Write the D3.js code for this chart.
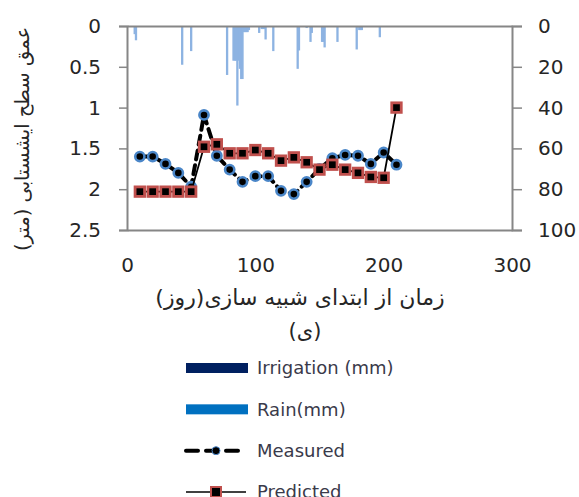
<!DOCTYPE html>
<html>
<head>
<meta charset="utf-8">
<script src="https://cdn.jsdelivr.net/npm/d3@7"></script>
<style>
  html, body { margin: 0; padding: 0; background: #fff; }
  svg text { font-family: "DejaVu Sans", sans-serif; }
</style>
</head>
<body>
<svg id="chart" width="579" height="497"></svg>
<script>
// Water-table depth (m) over simulation days, with daily rain (mm) on the inverted right axis
const measuredDays  = [10, 20, 30, 40, 50, 60, 70, 80, 90, 100, 110, 120, 130, 140, 150, 160, 170, 180, 190, 200, 210];
const measuredDepth = [1.60, 1.60, 1.69, 1.80, 1.97, 1.09, 1.59, 1.76, 1.91, 1.84, 1.84, 2.02, 2.06, 1.91, 1.75, 1.62, 1.58, 1.59, 1.69, 1.55, 1.70];

const predictedDays  = [10, 20, 30, 40, 50, 60, 70, 80, 90, 100, 110, 120, 130, 140, 150, 160, 170, 180, 190, 200, 210];
const predictedDepth = [2.03, 2.03, 2.03, 2.03, 2.03, 1.48, 1.45, 1.56, 1.56, 1.52, 1.56, 1.65, 1.61, 1.67, 1.76, 1.70, 1.76, 1.80, 1.85, 1.86, 1.00];

const rainDays = [6, 7, 43, 50, 78, 83, 84, 85, 86, 87, 88, 89, 90, 91, 92, 93, 94, 95,
                  103, 105, 106, 107, 108, 114, 133, 134, 140, 143, 144, 152, 153, 154, 164,
                  179, 181, 182, 183, 197];
const rainMm   = [4, 7, 19, 12.3, 24, 17, 17, 17, 39, 17, 21, 26, 26, 3, 3, 3, 3, 2,
                  3.4, 1.5, 1.5, 1.5, 6.6, 12.3, 21, 12, 1, 7.8, 3.4, 7.8, 7.8, 10.5, 7.8,
                  11.5, 2, 2, 2, 5.5];

const irrigationDays = [];
const irrigationMm   = [];

const xTicks      = [0, 100, 200, 300];
const depthTicks  = [0, 0.5, 1, 1.5, 2, 2.5];
const rainTicks   = [0, 20, 40, 60, 80, 100];

const xTitle = "زمان از ابتدای شبیه سازی(روز)";
const yTitle = "عمق سطح ایشستابی (متر)";
const panelLabel = "(ی)";

const legendItems = [
  { name: "Irrigation (mm)", kind: "bar", color: "#002060" },
  { name: "Rain(mm)",        kind: "bar", color: "#0070c0" },
  { name: "Measured",        kind: "measured" },
  { name: "Predicted",       kind: "predicted" }
];

const svg = d3.select("#chart");
const plot = { left: 127, right: 512, top: 26, bottom: 230 };
const axisColor = "#868686";
const textColor = "#262626";

const x = d3.scaleLinear().domain([0, 300]).range([plot.left, plot.right]);
const y = d3.scaleLinear().domain([0, 2.5]).range([plot.top, plot.bottom]);
const yRain = d3.scaleLinear().domain([0, 100]).range([plot.top, plot.bottom]);

// Rain bars hanging from the top edge
const barW = 2.3;
svg.append("g").selectAll("rect")
  .data(rainDays.map((d, i) => ({ d, v: rainMm[i] })))
  .join("rect")
  .attr("x", p => x(p.d) - barW / 2)
  .attr("y", yRain(0))
  .attr("width", barW)
  .attr("height", p => yRain(p.v) - yRain(0))
  .attr("fill", "#8db3e2");

svg.append("g").selectAll("rect")
  .data(irrigationDays.map((d, i) => ({ d, v: irrigationMm[i] })))
  .join("rect")
  .attr("x", p => x(p.d) - barW / 2)
  .attr("y", yRain(0))
  .attr("width", barW)
  .attr("height", p => yRain(p.v) - yRain(0))
  .attr("fill", "#002060");

// Axes
const tickFont = 20;
const axLeft = svg.append("g").attr("transform", `translate(${plot.left},0)`)
  .call(d3.axisLeft(y).tickValues(depthTicks).tickSize(8).tickPadding(18).tickFormat(d3.format("~g")));
const axRight = svg.append("g").attr("transform", `translate(${plot.right},0)`)
  .call(d3.axisRight(yRain).tickValues(rainTicks).tickSize(10).tickPadding(16));
const axBottom = svg.append("g").attr("transform", `translate(0,${plot.bottom})`)
  .call(d3.axisBottom(x).tickValues(xTicks).tickSize(0).tickPadding(28));
const axTop = svg.append("g").attr("transform", `translate(0,${plot.top})`)
  .call(d3.axisTop(x).tickValues([]).tickSize(0));

[axLeft, axRight, axBottom, axTop].forEach(g => {
  g.selectAll("path.domain").attr("stroke", axisColor).attr("stroke-width", 2);
  g.selectAll(".tick line").attr("stroke", axisColor).attr("stroke-width", 1.5);
  g.selectAll(".tick text").attr("fill", textColor).style("font-size", tickFont + "px")
    .style("font-family", "'DejaVu Sans', sans-serif");
});

// Measured series: dashed line with round markers
const line = d3.line().x(p => x(p.d)).y(p => y(p.v));
const measured = measuredDays.map((d, i) => ({ d, v: measuredDepth[i] }));
const predicted = predictedDays.map((d, i) => ({ d, v: predictedDepth[i] }));

svg.append("path").datum(measured)
  .attr("d", line).attr("fill", "none")
  .attr("stroke", "#000").attr("stroke-width", 4)
  .attr("stroke-dasharray", "9,6").attr("stroke-linecap", "round");

svg.append("g").selectAll("circle")
  .data(measured).join("circle")
  .attr("cx", p => x(p.d)).attr("cy", p => y(p.v)).attr("r", 4.6)
  .attr("fill", "#000").attr("stroke", "#4a86c8").attr("stroke-width", 2.6);

// Predicted series: solid line with square markers
svg.append("path").datum(predicted)
  .attr("d", line).attr("fill", "none")
  .attr("stroke", "#000").attr("stroke-width", 1.8);

const sq = 9.5;
svg.append("g").selectAll("rect")
  .data(predicted).join("rect")
  .attr("x", p => x(p.d) - sq / 2).attr("y", p => y(p.v) - sq / 2)
  .attr("width", sq).attr("height", sq)
  .attr("fill", "#000").attr("stroke", "#c0504d").attr("stroke-width", 2.8);

// Titles
svg.append("text")
  .attr("x", 300).attr("y", 305)
  .attr("text-anchor", "middle").attr("direction", "rtl")
  .attr("fill", textColor).style("font-size", "22px")
  .text(xTitle);

svg.append("text")
  .attr("x", 305).attr("y", 338)
  .attr("text-anchor", "middle")
  .attr("fill", textColor).style("font-size", "21px")
  .text(panelLabel);

svg.append("text")
  .attr("transform", "translate(29,139) rotate(-90)")
  .attr("text-anchor", "middle")
  .attr("fill", textColor).style("font-size", "19.5px")
  .text(yTitle);

// Legend
const lg = svg.append("g");
const rowY = d3.scalePoint().domain(legendItems.map(d => d.name)).range([368, 492]);
legendItems.forEach(item => {
  const cy = rowY(item.name);
  if (item.kind === "bar") {
    lg.append("rect").attr("x", 186).attr("y", cy - 5).attr("width", 62).attr("height", 10)
      .attr("fill", item.color);
  } else if (item.kind === "measured") {
    lg.append("line").attr("x1", 186).attr("x2", 244).attr("y1", cy).attr("y2", cy)
      .attr("stroke", "#000").attr("stroke-width", 4).attr("stroke-dasharray", "12,8")
      .attr("stroke-linecap", "round");
    lg.append("circle").attr("cx", 216).attr("cy", cy).attr("r", 4).attr("fill", "#000")
      .attr("stroke", "#4a86c8").attr("stroke-width", 1);
  } else {
    lg.append("line").attr("x1", 186).attr("x2", 246).attr("y1", cy).attr("y2", cy)
      .attr("stroke", "#000").attr("stroke-width", 1.5);
    lg.append("rect").attr("x", 211).attr("y", cy - 5).attr("width", 10).attr("height", 10)
      .attr("fill", "#000").attr("stroke", "#c0504d").attr("stroke-width", 2);
  }
  lg.append("text").attr("x", 257).attr("y", cy).attr("dy", "0.36em")
    .attr("fill", "#3a3a4a").style("font-size", "18px").text(item.name);
});
</script>
</body>
</html>
